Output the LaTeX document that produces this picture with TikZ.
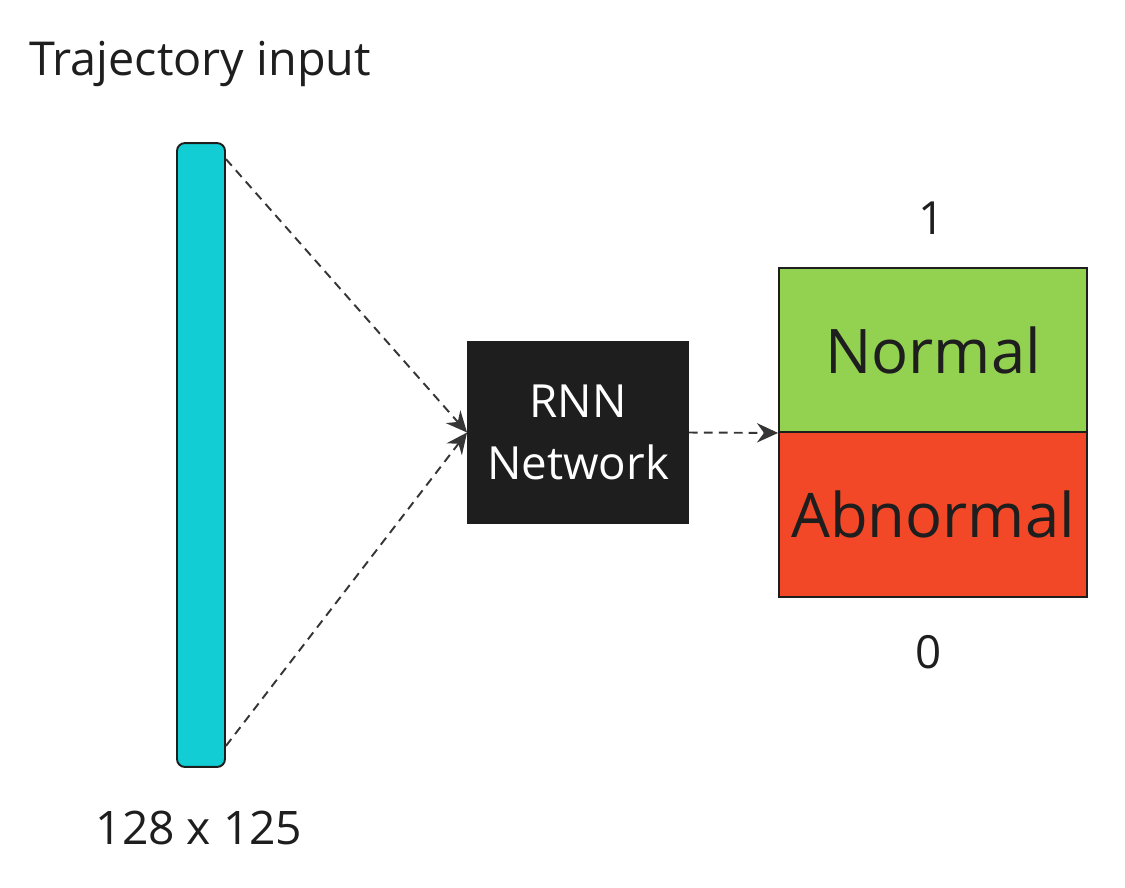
\documentclass[tikz,border=0pt]{standalone}
\usepackage{fontspec}
\setmainfont{Open Sans}
\usetikzlibrary{arrows.meta,calc}

\definecolor{barcyan}{HTML}{13CDD4}
\definecolor{okgreen}{HTML}{93D150}
\definecolor{badred}{HTML}{F24827}
\definecolor{inkdark}{HTML}{1E1E1E}

\begin{document}
\begin{tikzpicture}[x=0.02cm, y=-0.02cm,
    box/.style={draw=inkdark, line width=1.1pt, inner sep=0pt},
    flow/.style={-{Stealth[length=12pt,width=11pt,inset=4pt]}, dash pattern=on 5pt off 3.5pt, line width=1.1pt, draw=inkdark!90}]

    % 0. 画布大小
    \useasboundingbox (0,0) rectangle (1125,887);

    % 1. 输入向量
    \node[box, fill=barcyan, rounded corners=4.5pt, minimum width=0.96cm, minimum height=12.48cm] (bar) at (201,455) {};
    \node[anchor=west, font=\fontsize{26.6}{30}\selectfont, text=inkdark] (title) at (23,64) {Trajectory input};
    \node[font=\fontsize{26.3}{30}\selectfont, text=inkdark] (size) at (199,828) {128 x 125};

    % 2. RNN 网络
    \node[box, fill=inkdark, minimum width=4.4cm, minimum height=3.62cm, align=center,
          text=white, font=\fontsize{26}{35}\selectfont] (rnn) at (578,432.5) {RNN\\Network};

    % 3. 输出
    \node[box, fill=okgreen, minimum width=6.16cm, minimum height=3.28cm,
          font=\fontsize{35}{40}\selectfont, text=inkdark] (normal) at (933,350) {Normal};
    \node[box, fill=badred, minimum width=6.16cm, minimum height=3.3cm,
          font=\fontsize{35}{40}\selectfont, text=inkdark] (abnormal) at (933,514.5) {Abnormal};
    \node[font=\fontsize{26}{30}\selectfont, text=inkdark] (one) at (932,218) {1};
    \node[font=\fontsize{26}{30}\selectfont, text=inkdark] (zero) at (929,652) {0};

    % 4. 虚线箭头
    \coordinate (btop) at ($(bar.north east)+(0,17)$);
    \coordinate (bbot) at ($(bar.south east)+(0,-22)$);
    \draw[flow] (btop) -- (rnn.west);
    \draw[flow] (bbot) -- (rnn.west);
    \draw[flow] (rnn.east) -- (normal.south west);

\end{tikzpicture}
\end{document}
